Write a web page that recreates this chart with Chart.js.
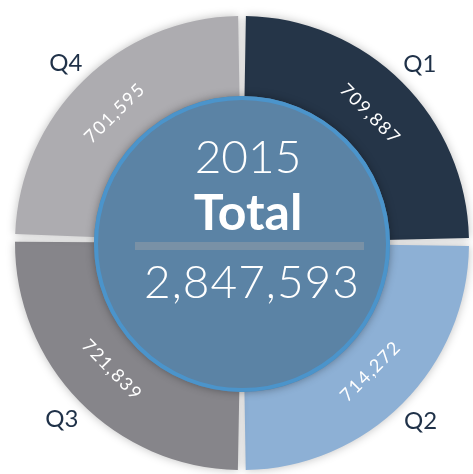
<!DOCTYPE html>
<html>
<head>
<meta charset="utf-8">
<script src="https://cdn.jsdelivr.net/npm/chart.js@4"></script>
<style>
  html, body { margin: 0; padding: 0; background: #fff; }
  #wrap { width: 473px; height: 474px; }
</style>
</head>
<body>
<div id="wrap"><canvas id="quarter-chart"></canvas></div>
<script>
const quarters = ['Q1', 'Q2', 'Q3', 'Q4'];
const values2015 = [709887, 714272, 721839, 701595];
const quarterColors = ['#253548', '#8db0d5', '#86858a', '#adacb0'];
const yearLabel = '2015';
const totalLabel = 'Total';

const total = values2015.reduce((a, b) => a + b, 0);
const fmt = (n) => n.toLocaleString('en-US');

// draws the ring labels and the blue disk in the middle
const centerDisk = {
  id: 'centerDisk',
  beforeDatasetsDraw(chart) {
    const ctx = chart.ctx;
    ctx.save();
    ctx.shadowColor = 'rgba(0,0,0,0.25)';
    ctx.shadowBlur = 10;
  },
  afterDatasetsDraw(chart) {
    const ctx = chart.ctx;
    ctx.restore();
    const arcs = chart.getDatasetMeta(0).data;
    const cx = arcs[0].x, cy = arcs[0].y, R = arcs[0].outerRadius;

    arcs.forEach((arc, i) => {
      const mid = (arc.startAngle + arc.endAngle) / 2;
      // value along the ring
      const r = R * 0.815;
      let rot = mid + Math.PI / 2;
      while (rot > Math.PI / 2) rot -= Math.PI;
      while (rot <= -Math.PI / 2) rot += Math.PI;
      ctx.save();
      ctx.translate(cx + Math.cos(mid) * r, cy + Math.sin(mid) * r);
      ctx.rotate(rot);
      ctx.fillStyle = '#ffffff';
      ctx.font = '400 18px Lato';
      ctx.letterSpacing = '1.5px';
      ctx.textAlign = 'center';
      ctx.textBaseline = 'middle';
      ctx.fillText(fmt(values2015[i]), 0, 0);
      ctx.restore();

      // quarter name outside
      const lr = R * 1.13;
      ctx.save();
      ctx.fillStyle = '#1f3148';
      ctx.font = '400 24px Lato';
      ctx.textAlign = 'center';
      ctx.textBaseline = 'middle';
      ctx.fillText(quarters[i], cx + Math.cos(mid) * lr, cy + Math.sin(mid) * lr);
      ctx.restore();
    });

    // center disk
    const dx = cx, dy = cy + 1, dr = 148;
    ctx.save();
    ctx.shadowColor = 'rgba(0,0,0,0.35)';
    ctx.shadowBlur = 8;
    ctx.beginPath();
    ctx.arc(dx, dy, dr, 0, Math.PI * 2);
    ctx.fillStyle = '#5b83a5';
    ctx.fill();
    ctx.restore();
    ctx.save();
    ctx.beginPath();
    ctx.arc(dx, dy, dr - 2, 0, Math.PI * 2);
    ctx.strokeStyle = '#4b94cb';
    ctx.lineWidth = 4;
    ctx.stroke();

    const tx = cx + 6;
    ctx.fillStyle = '#ffffff';
    ctx.textAlign = 'center';
    ctx.textBaseline = 'alphabetic';
    ctx.font = '300 46px Lato';
    ctx.fillText(yearLabel, tx, cy - 70);
    ctx.font = '700 50px Lato';
    ctx.fillText(totalLabel, tx, cy - 13);

    ctx.fillStyle = '#7991a6';
    ctx.fillRect(cx - 107, cy - 1, 229, 8);

    ctx.fillStyle = '#ffffff';
    ctx.font = '300 46px Lato';
    ctx.letterSpacing = '1px';
    ctx.fillText(fmt(total), tx + 4, cy + 55);
    ctx.restore();
  }
};

new Chart(document.getElementById('quarter-chart'), {
  type: 'doughnut',
  data: {
    labels: quarters,
    datasets: [
      {
        data: values2015,
        backgroundColor: quarterColors,
        borderWidth: 0,
        spacing: 8,
      },
    ],
  },
  options: {
    responsive: true,
    maintainAspectRatio: false,
    animation: false,
    cutout: '62%',
    layout: {
      padding: { left: 15, top: 16, right: 4, bottom: 4 },
    },
    plugins: {
      legend: { display: false },
      tooltip: { enabled: false },
    },
  },
  plugins: [centerDisk],
});
</script>
</body>
</html>
